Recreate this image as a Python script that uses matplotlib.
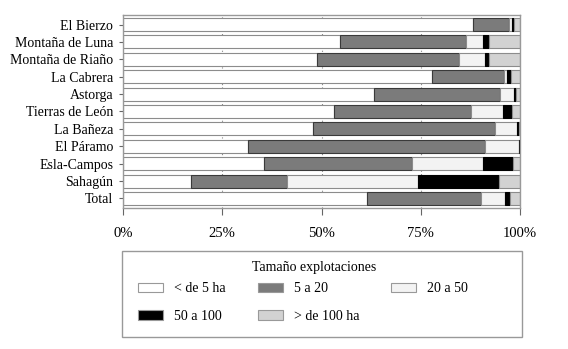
import matplotlib.pyplot as plt
from matplotlib.patches import Patch, Rectangle

# comarcas, top to bottom
regions = ["El Bierzo", "Montaña de Luna", "Montaña de Riaño", "La Cabrera", "Astorga",
           "Tierras de León", "La Bañeza", "El Páramo", "Esla-Campos", "Sahagún", "Total"]

# share of farms (%) per size class
menos5 = [88.1, 54.7, 48.9, 77.8, 63.1, 53.1, 47.9, 31.6, 35.5, 17.1, 61.5]
de5a20 = [9.2, 31.7, 35.7, 18.1, 31.8, 34.5, 45.8, 59.5, 37.4, 24.1, 28.6]
de20a50 = [0.7, 4.4, 6.6, 0.9, 3.6, 8.0, 5.5, 8.6, 17.7, 33.0, 6.0]
de50a100 = [0.5, 1.3, 1.0, 0.9, 0.5, 2.4, 0.5, 0.3, 7.7, 20.5, 1.4]
mas100 = [1.5, 7.9, 7.8, 2.3, 1.0, 2.0, 0.3, 0.0, 1.7, 5.3, 2.5]

labels = ["< de 5 ha", "5 a 20", "20 a 50", "50 a 100", "> de 100 ha"]
colors = ["#ffffff", "#7b7b7b", "#f3f3f3", "#000000", "#d2d2d2"]
edges = ["#8c8c8c", "#3a3a3a", "#8c8c8c", "#000000", "#8c8c8c"]

plt.rcParams['font.family'] = ['Liberation Serif', 'DejaVu Serif']

W, H = 568, 349
fig = plt.figure(figsize=(W / 100, H / 100), dpi=100)
ax = fig.add_axes([123/W, 1 - 208/H, 397/W, 193/H])

series = [menos5, de5a20, de20a50, de50a100, mas100]
ypos = list(range(len(regions)))
left = [0.0] * len(regions)
for vals, c, e, lab in zip(series, colors, edges, labels):
    ax.barh(ypos, vals, left=left, height=0.75, color=c, edgecolor=e, linewidth=0.8, label=lab, zorder=2)
    left = [l + v for l, v in zip(left, vals)]

ax.set_xlim(0, 100)
ax.set_ylim(len(regions) - 0.45, -0.55)
ax.set_yticks(ypos)
ax.set_yticklabels(regions, fontsize=10)
ax.set_xticks([0, 25, 50, 75, 100])
ax.set_xticklabels(["0%", "25%", "50%", "75%", "100%"], fontsize=10.5)
ax.tick_params(axis='x', length=5, color='#666666', pad=9)
ax.tick_params(axis='y', length=3, color='#666666', pad=4)
for x in [25, 50, 75]:
    ax.axvline(x, color='#888888', linestyle=(0, (1, 2)), linewidth=0.8, zorder=1)
for s in ax.spines.values():
    s.set_color('#999999')
    s.set_linewidth(1.0)

# legend box, title and entries
fig.add_artist(Rectangle((122/W, 12/H), 400/W, 86/H, transform=fig.transFigure,
                         fill=False, edgecolor='#999999', linewidth=1.0))
fig.text(314/W, 1 - 268/H, "Tamaño explotaciones", ha='center', va='center', fontsize=10)

handles = [Patch(facecolor=c, edgecolor='#999999', linewidth=0.8) for c in colors]
# reorder so the legend reads row by row
order = [0, 3, 1, 4, 2]
leg = fig.legend([handles[i] for i in order], [labels[i] for i in order], ncol=3,
                 loc='center left', bbox_to_anchor=(138/W, 1 - 302.5/H),
                 borderaxespad=0, borderpad=0, fontsize=10, frameon=False,
                 handlelength=1.8, handleheight=0.65, handletextpad=0.8,
                 labelspacing=1.05, columnspacing=2.3)

fig.savefig("out.png", dpi=100)
